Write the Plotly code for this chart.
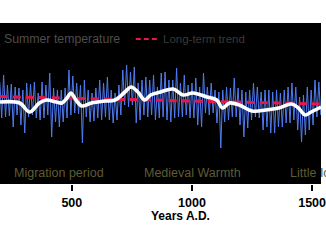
import numpy as np
import plotly.graph_objects as go

# Annual summer temperature anomalies (deg C), read as alternating highs/lows of the dense series
start_year = 200
year_step = 8
temp_values = [
    0.9, -0.9, 1.25, -0.85, 0.75, -0.8, 0.8, -1.35, 0.65, -0.75,
    0.6, -1.25, 0.5, -1.65, 0.85, -0.85, 0.8, -0.75, 0.9, -0.9,
    0.35, -1.0, 0.9, -0.9, 0.75, -0.75, 1.35, -1.85, 0.6, -1.1,
    0.5, -1.35, 0.5, -1.1, 0.6, -0.9, 1.5, -0.75, 1.2, -0.65,
    0.85, -0.7, 0.75, -2.15, 1.0, -0.85, 0.5, -1.1, 0.35, -1.05,
    0.6, -0.9, 1.0, -1.0, 0.85, -0.85, 1.15, -1.0, 0.5, -1.15,
    0.35, -1.0, 0.75, -0.75, 1.5, -0.25, 1.75, -0.35, 1.4, -0.25,
    1.65, -1.15, 0.85, -1.0, 1.0, -0.75, 1.15, -0.85, 1.0, -0.75,
    1.25, -1.0, 0.65, -0.9, 1.35, -0.85, 1.4, -1.0, 1.0, -1.1,
    1.0, -0.9, 1.6, -0.85, 0.85, -0.85, 1.25, -0.75, 0.75, -0.9,
    0.85, -0.9, 1.1, -1.25, 0.65, -1.35, 1.35, -0.65, 0.65, -0.75,
    0.85, -0.65, 0.5, -1.15, 0.4, -2.4, 0.5, -1.1, 0.65, -1.0,
    0.6, -0.85, 1.1, -0.85, 0.6, -1.25, 0.5, -1.85, 0.4, -1.4,
    0.5, -1.0, 0.85, -0.85, 0.65, -0.9, 0.4, -1.5, 0.5, -1.35,
    0.5, -1.65, 0.4, -1.65, 0.5, -1.35, 0.35, -1.35, 0.5, -1.15,
    0.65, -1.15, 0.85, -1.0, 0.65, -1.5, 0.15, -2.1, 0.25, -1.75,
    0.65, -1.5, 0.5, -1.25, 1.0, -0.85, 0.9, -0.75,
]
temp_years = [start_year + year_step * i for i in range(len(temp_values))]

# Smoothed curve
smooth_years = [201, 283, 324, 365, 394, 435, 459, 480, 496, 517, 541, 582, 639, 680,
                721, 746, 775, 803, 828, 869, 922, 963, 1004, 1062, 1103, 1127, 1156,
                1197, 1250, 1307, 1361, 1414, 1443, 1471, 1496, 1537]
smooth_values = [-0.1, -0.15, -0.6, -0.15, 0.0, -0.1, -0.15, 0.1, 0.35, 0.0, -0.3, -0.15,
                 -0.05, 0.0, 0.4, 0.65, 0.4, 0.0, 0.25, 0.4, 0.55, 0.25, 0.35, 0.15, 0.0,
                 -0.4, -0.15, -0.25, -0.55, -0.5, -0.4, -0.2, -0.4, -0.75, -0.6, -0.35]

# Long-term linear trend
trend_years = [200, 1540]
trend_values = [0.17, -0.2]

x_ticks = [500, 1000, 1500]
x_title = "Years A.D."
x_title_year = 951
period_labels = ["Migration period", "Medieval Warmth", "Little Ice Age"]
period_years = [447, 1004, 1400]

fig = go.Figure()
fig.add_trace(go.Scatter(x=temp_years, y=temp_values, mode="lines",
                         line=dict(color="#4f7cf2", width=1.0), showlegend=False))
fig.add_trace(go.Scatter(x=trend_years, y=trend_values, mode="lines",
                         line=dict(color="#e8174a", width=3, dash="8px,5px"), showlegend=False))
fig.add_trace(go.Scatter(x=smooth_years, y=smooth_values, mode="lines", line_shape="spline",
                         line=dict(color="white", width=3.6), showlegend=False))

# legend-like header
fig.add_annotation(x=0.006, y=0.9, xref="paper", yref="paper", text="Summer temperature",
                   showarrow=False, xanchor="left", yanchor="middle",
                   font=dict(family="Liberation Sans", size=12.3, color="#4d4d4d"))
fig.add_shape(type="line", xref="paper", yref="paper", x0=0.423, x1=0.49, y0=0.9, y1=0.9,
              line=dict(color="#e8174a", width=2, dash="5px,3px"))
fig.add_annotation(x=0.5, y=0.9, xref="paper", yref="paper", text="Long-term trend",
                   showarrow=False, xanchor="left", yanchor="middle",
                   font=dict(family="Liberation Sans", size=11.5, color="#3a3a3a"))

for lab, yr, anc in zip(period_labels, period_years, ["center", "center", "left"]):
    fig.add_annotation(x=yr, y=0.07, xref="x", yref="paper", text=lab, showarrow=False,
                       xanchor=anc, yanchor="middle",
                       font=dict(family="Liberation Sans", size=12.5, color="#5e5c32"))

fig.add_annotation(x=x_title_year, y=-0.2, xref="x", yref="paper", text=x_title,
                   showarrow=False, xanchor="center", yanchor="middle",
                   font=dict(family="Liberation Sans", size=12, color="black", weight="bold"))

fig.update_layout(
    width=326, height=245,
    margin=dict(l=0, r=0, t=23, b=61),
    paper_bgcolor="white", plot_bgcolor="black",
    xaxis=dict(range=[201, 1537], tickvals=x_ticks, ticks="outside", ticklen=6,
               tickwidth=1.5, tickcolor="black", showgrid=False, zeroline=False,
               showline=False, ticklabeloverflow="allow", ticklabelstandoff=1,
               tickfont=dict(family="Liberation Sans", size=12.5, color="black", weight="bold")),
    yaxis=dict(range=[-4.2, 3.85], visible=False),
)

fig.write_html("out.html")
